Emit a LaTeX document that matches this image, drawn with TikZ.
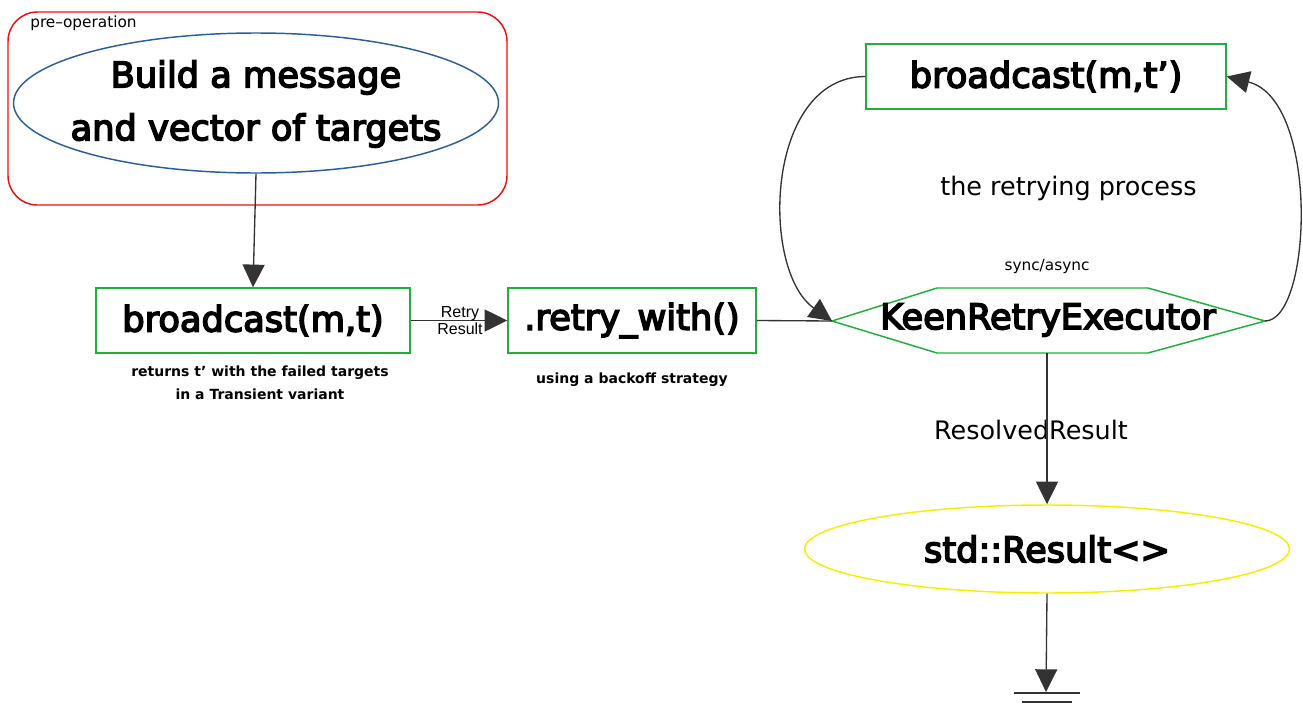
\documentclass[tikz,border=0pt]{standalone}
\usepackage{fontspec}
\setmainfont{DejaVu Sans}
\newfontfamily\arialf{Liberation Sans}
\newfontfamily\medf[FakeBold=4.5]{DejaVu Sans}
\usetikzlibrary{arrows.meta,shapes.geometric}
\definecolor{boxgreen}{HTML}{1FAF3A}
\definecolor{elblue}{HTML}{2B5D9B}
\definecolor{arrgray}{HTML}{333333}
\definecolor{redline}{HTML}{EE1111}
\definecolor{yel}{HTML}{F5EE00}
\begin{document}
\begin{tikzpicture}[x=0.75pt,y=-0.75pt,
  greenbox/.style={draw=boxgreen,line width=1.1pt,minimum height=48.75pt,inner sep=0pt,font=\medf\fontsize{26.4}{30}\selectfont},
  bigtext/.style={font=\medf\fontsize{26.4}{39.75}\selectfont,align=center,inner sep=0pt},
  smallbold/.style={font=\fontsize{10.5}{17.25}\selectfont\bfseries,align=center,inner sep=0pt},
  midtext/.style={font=\fontsize{19.1}{22}\selectfont,inner sep=0pt},
  conn/.style={draw=arrgray,line width=1pt},
  tipped/.style={conn,-{Triangle[length=17pt,width=16.5pt]}}
]
\useasboundingbox (0,0) rectangle (1303,707);
% pre-operation group
\node[draw=redline,line width=1.1pt,rounded corners=22pt,minimum width=374.25pt,minimum height=144.75pt] (grp) at (257.5,108.5) {};
\node[anchor=west,font=\fontsize{11.5}{13}\selectfont,inner sep=0pt] (pre) at (30,23) {pre\textendash operation};
\node[ellipse,draw=elblue,line width=1.1pt,minimum width=363.75pt,minimum height=105pt,inner sep=0pt] (build) at (256,103) {};
\node[bigtext] (buildtxt) at (256,104) {Build a message\\and vector of targets};
% boxes
\node[greenbox,minimum width=235.5pt] (bc1) at (253,320.5) {broadcast(m,t)};
\node[smallbold] (ret) at (260,383) {returns t’ with the failed targets\\in a Transient variant};
\node[greenbox,minimum width=186pt] (rw) at (632,320.5) {.retry\_with()};
\node[smallbold] (bo) at (632,380) {using a backoff strategy};
\node[greenbox,minimum width=270pt] (bc2) at (1046,76.5) {broadcast(m,t’)};
% hexagon
\coordinate (hexW) at (832,321);
\coordinate (hexE) at (1265,321);
\coordinate (hexS) at (1047,353);
\draw[boxgreen,line width=1.1pt] (hexW) -- (937,288) -- (1148,288) -- (hexE) -- (1148,353) -- (937,353) -- cycle;
\node[font=\medf\fontsize{26.4}{30}\selectfont,inner sep=0pt] (kre) at (1048,320) {KeenRetryExecutor};
\node[font=\fontsize{11.5}{13}\selectfont,inner sep=0pt] (sa) at (1047,267) {sync/async};
\node[midtext] (rp) at (1068.5,188) {the retrying process};
% result ellipse
\node[ellipse,draw=yel,line width=1.1pt,minimum width=363.75pt,minimum height=66pt,inner sep=0pt,font=\medf\fontsize{26.4}{30}\selectfont] (res) at (1047,549) {std::Result<>};
\node[midtext] (rr) at (1031,430) {ResolvedResult};
% connectors
\draw[tipped] (build.south) -- (bc1.north);
\draw[tipped] (bc1.east) -- (rw.west);
\node[font=\arialf\fontsize{12}{12.75}\selectfont,align=center,inner sep=0pt] (rlab) at (460,320.5) {Retry\\Result};
\draw[conn] (rw.east) -- (hexW);
\draw[tipped] (bc2.west) .. controls (765,77) and (760,270) .. (hexW);
\draw[tipped] (hexE) .. controls (1312,321) and (1320,100) .. (bc2.east);
\draw[tipped] (hexS) -- (res.north);
\coordinate (gnd) at (1046,692);
\draw[tipped] (res.south) -- (gnd);
\draw[conn] (1014,693) -- (1080,693);
\draw[conn] (1022,702) -- (1072,702);
\end{tikzpicture}
\end{document}
